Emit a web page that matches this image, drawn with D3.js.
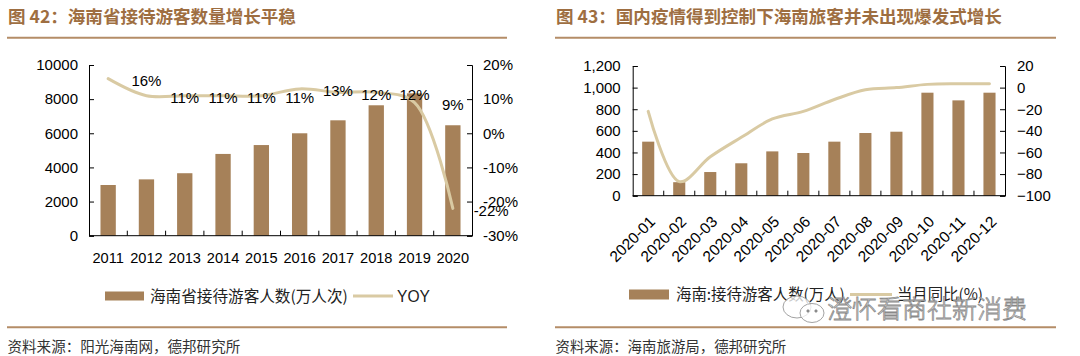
<!DOCTYPE html>
<html><head><meta charset="utf-8">
<script src="https://cdn.jsdelivr.net/npm/d3@7"></script>
<style>
html,body{margin:0;padding:0;background:#fff;}
svg{display:block;}
text{font-family:"Liberation Sans",Arial,sans-serif;}
.cjk{font-family:"Noto Sans CJK SC","Noto Sans",sans-serif;}
</style></head>
<body>
<svg id="c" width="1080" height="356"></svg>
<script>
// ---- Data: chart 1 ----
const years = ["2011","2012","2013","2014","2015","2016","2017","2018","2019","2020"];
const visitors = [2970, 3300, 3660, 4790, 5310, 6000, 6760, 7640, 8340, 6470];
const yoy = [16, 11, 11, 11, 11, 13, 12, 12, 9, -22];
const leftTicks1 = [0, 2000, 4000, 6000, 8000, 10000];
const rightTicks1 = [-30, -20, -10, 0, 10, 20];

// ---- Data: chart 2 ----
const months = ["2020-01","2020-02","2020-03","2020-04","2020-05","2020-06","2020-07","2020-08","2020-09","2020-10","2020-11","2020-12"];
const monthly = [500, 125, 219, 300, 410, 395, 500, 580, 592, 953, 882, 953];
const monthlyYoy = [-22, -87, -64, -46, -29, -22, -11, -2, 0, 3, 3.5, 3.5];
const leftTicks2 = [0, 200, 400, 600, 800, 1000, 1200];
const rightTicks2 = [-100, -80, -60, -40, -20, 0, 20];

const BAR = "#a68159", LINE = "#d9caa3", BROWN = "#9e6e41", RULE = "#b48d67";
const svg = d3.select("#c");

// scale a text's font size so that its rendered width matches the reference
function fit(sel, w) {
  const l = sel.node().getComputedTextLength();
  if (l > 0) sel.attr("font-size", (+sel.attr("font-size")) * w / l);
  return sel;
}

function header(x0, x1, title, titleW, source, sourceW) {
  fit(svg.append("text").attr("class","cjk").attr("x", x0 + 1).attr("y", 23)
    .attr("font-size", 17.5).attr("font-weight", "bold").attr("fill", BROWN).text(title), titleW);
  svg.append("line").attr("x1", x0).attr("x2", x1).attr("y1", 37.7).attr("y2", 37.7)
    .attr("stroke", RULE).attr("stroke-width", 2);
  svg.append("line").attr("x1", x0).attr("x2", x1).attr("y1", 327.3).attr("y2", 327.3)
    .attr("stroke", RULE).attr("stroke-width", 2);
  fit(svg.append("text").attr("class","cjk").attr("x", x0 + 0.5).attr("y", 351.5)
    .attr("font-size", 14.5).attr("fill", "#333").text(source), sourceW);
}

header(7, 507, "图 42：海南省接待游客数量增长平稳", 288, "资料来源：阳光海南网，德邦研究所", 233);
header(555, 1056, "图 43：国内疫情得到控制下海南旅客并未出现爆发式增长", 446, "资料来源：海南旅游局，德邦研究所", 231);

function styleAxis(g, fs) {
  g.selectAll("path,line").attr("stroke", "#000").attr("stroke-width", 1);
  g.selectAll("text").attr("font-size", fs || 15).attr("fill", "#000")
    .attr("font-family", "'Liberation Sans',Arial,sans-serif");
}

// ================= Chart 1 =================
{
  const L = 89, R = 472, T = 65, B = 235.7;
  const x = d3.scaleBand().domain(years).range([L, R]).paddingInner(0.6).paddingOuter(0.3);
  const step = x.step();
  const y0 = d3.scaleLinear().domain([0, 10000]).range([B, T]);
  const y1 = d3.scaleLinear().domain([-30, 20]).range([B, T]);

  svg.append("g").selectAll("rect").data(years).join("rect")
    .attr("x", d => x(d)).attr("width", x.bandwidth())
    .attr("y", (d, i) => y0(visitors[i])).attr("height", (d, i) => B - y0(visitors[i]))
    .attr("fill", BAR);

  const gl = svg.append("g").attr("transform", `translate(${L},0)`)
    .call(d3.axisRight(y0).tickValues(leftTicks1).tickSize(5).tickFormat(d3.format("d")));
  gl.selectAll("text").attr("x", -11).attr("text-anchor", "end");
  styleAxis(gl);
  const gr = svg.append("g").attr("transform", `translate(${R},0)`)
    .call(d3.axisLeft(y1).tickValues(rightTicks1).tickSize(5).tickFormat(d => d + "%"));
  gr.selectAll("text").attr("x", 11).attr("text-anchor", "start");
  styleAxis(gr);
  const gb = svg.append("g").attr("transform", `translate(0,${B})`)
    .call(d3.axisBottom(x).tickSize(0));
  gb.select(".domain").attr("d", `M${L},0H${R}`);
  styleAxis(gb, 14.6);
  gb.selectAll("text").attr("dy", "0.71em").attr("y", 16.5);
  svg.append("g").selectAll("line").data(years.slice(1)).join("line")
    .attr("x1", d => x(d) - (step - x.bandwidth()) / 2).attr("x2", d => x(d) - (step - x.bandwidth()) / 2)
    .attr("y1", B).attr("y2", B - 5).attr("stroke", "#000");

  const line = d3.line().x((d, i) => x(years[i]) + x.bandwidth() / 2).y(d => y1(d))
    .curve(d3.curveCatmullRom.alpha(0.5));
  svg.append("path").datum(yoy).attr("d", line).attr("fill", "none")
    .attr("stroke", LINE).attr("stroke-width", 3).attr("stroke-linecap", "round");

  // data labels (shifted one category right, as in the reference)
  svg.append("g").selectAll("text").data(yoy).join("text")
    .attr("x", (d, i) => x(years[i]) + x.bandwidth() / 2 + step)
    .attr("y", d => y1(d) + 2).attr("dy", "0.35em")
    .attr("text-anchor", "middle").attr("font-size", 15).attr("fill", "#000")
    .text(d => d + "%");

  const lg = svg.append("g");
  lg.append("rect").attr("x", 105).attr("y", 291.5).attr("width", 39).attr("height", 9).attr("fill", BAR);
  fit(lg.append("text").attr("class","cjk").attr("x", 150).attr("y", 301.5).attr("font-size", 15).attr("fill", "#222")
    .text("海南省接待游客人数(万人次)"), 198);
  lg.append("line").attr("x1", 353).attr("x2", 393).attr("y1", 296).attr("y2", 296)
    .attr("stroke", LINE).attr("stroke-width", 3);
  fit(lg.append("text").attr("x", 397).attr("y", 301.5).attr("font-size", 15.5).attr("fill", "#222").text("YOY"), 33);
}

// ================= Chart 2 =================
{
  const L = 632.7, R = 1005, T = 66, B = 195.7;
  const x = d3.scaleBand().domain(months).range([L, R]).paddingInner(0.61).paddingOuter(0.305);
  const step = x.step();
  const y0 = d3.scaleLinear().domain([0, 1200]).range([B, T]);
  const y1 = d3.scaleLinear().domain([-100, 20]).range([B, T]);

  svg.append("g").selectAll("rect").data(months).join("rect")
    .attr("x", d => x(d)).attr("width", x.bandwidth())
    .attr("y", (d, i) => y0(monthly[i])).attr("height", (d, i) => B - y0(monthly[i]))
    .attr("fill", BAR);

  const gl = svg.append("g").attr("transform", `translate(${L},0)`)
    .call(d3.axisRight(y0).tickValues(leftTicks2).tickSize(5).tickFormat(d3.format(",")));
  gl.selectAll("text").attr("x", -12).attr("text-anchor", "end");
  styleAxis(gl);
  const gr = svg.append("g").attr("transform", `translate(${R},0)`)
    .call(d3.axisLeft(y1).tickValues(rightTicks2).tickSize(5).tickFormat(d3.format("d")));
  gr.selectAll("text").attr("x", 12).attr("text-anchor", "start");
  styleAxis(gr);

  const gb = svg.append("g").attr("transform", `translate(0,${B})`)
    .call(d3.axisBottom(x).tickSize(0));
  gb.select(".domain").attr("d", `M${L},0H${R}`);
  styleAxis(gb, 15.5);
  gb.selectAll(".tick text")
    .attr("text-anchor", "end").attr("dy", 0).attr("y", 0)
    .attr("transform", `translate(8,27) rotate(-45)`);
  svg.append("g").selectAll("line").data(months.slice(1)).join("line")
    .attr("x1", d => x(d) - (step - x.bandwidth()) / 2).attr("x2", d => x(d) - (step - x.bandwidth()) / 2)
    .attr("y1", B).attr("y2", B - 5).attr("stroke", "#000");

  const line = d3.line().x((d, i) => x(months[i]) + x.bandwidth() / 2).y(d => y1(d))
    .curve(d3.curveCatmullRom.alpha(0.5));
  svg.append("path").datum(monthlyYoy).attr("d", line).attr("fill", "none")
    .attr("stroke", LINE).attr("stroke-width", 3).attr("stroke-linecap", "round");

  const lg = svg.append("g");
  lg.append("rect").attr("x", 629).attr("y", 289.5).attr("width", 40).attr("height", 10).attr("fill", BAR);
  fit(lg.append("text").attr("class","cjk").attr("x", 676).attr("y", 300).attr("font-size", 15).attr("fill", "#222")
    .text("海南:接待游客人数(万人)"), 169);
  lg.append("line").attr("x1", 850).attr("x2", 892).attr("y1", 294.5).attr("y2", 294.5)
    .attr("stroke", LINE).attr("stroke-width", 3);
  fit(lg.append("text").attr("class","cjk").attr("x", 897).attr("y", 300).attr("font-size", 15).attr("fill", "#222")
    .text("当月同比(%)"), 86);

  // watermark
  const wm = svg.append("g").attr("fill", "rgba(255,255,255,0.75)").attr("stroke", "#8a8a8a").attr("stroke-width", 0.8);
  wm.append("ellipse").attr("cx", 797).attr("cy", 307).attr("rx", 14).attr("ry", 11);
  wm.append("ellipse").attr("cx", 812).attr("cy", 313).attr("rx", 12).attr("ry", 9.5);
  wm.append("circle").attr("cx", 808).attr("cy", 311).attr("r", 1.2).attr("fill", "#8a8a8a");
  wm.append("circle").attr("cx", 816).attr("cy", 311).attr("r", 1.2).attr("fill", "#8a8a8a");
  fit(wm.append("text").attr("class","cjk").attr("x", 827).attr("y", 318).attr("font-size", 25).attr("font-weight", 300)
    .text("澄怀看商社新消费"), 200);
}
</script>
</body></html>
